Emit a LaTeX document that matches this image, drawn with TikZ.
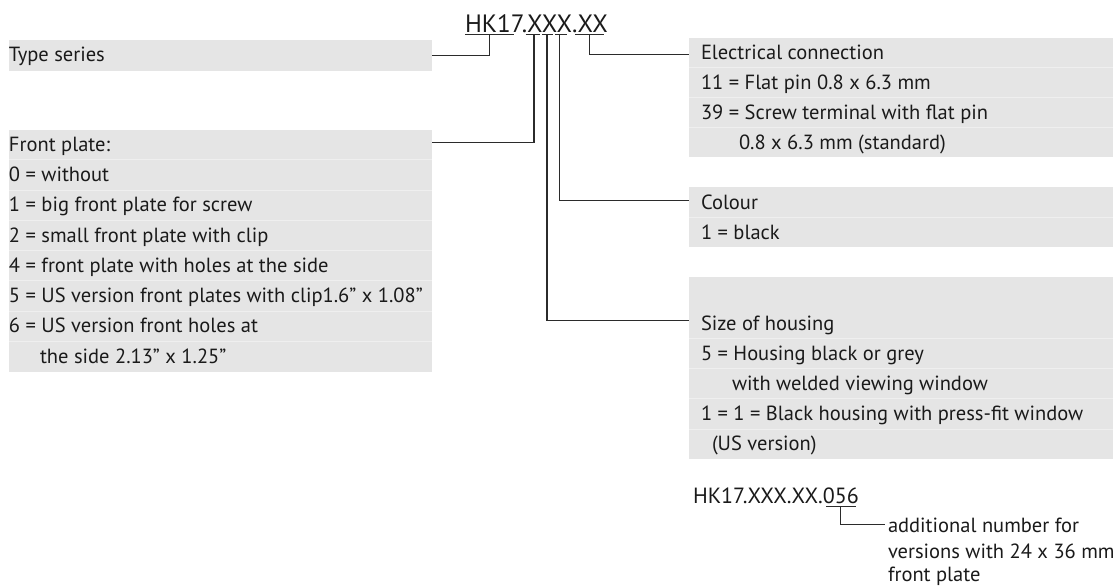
\documentclass[tikz,border=0pt]{standalone}
\usepackage{fontspec}
\setmainfont{PT Sans}
\usetikzlibrary{calc}
\definecolor{boxgray}{HTML}{E5E5E5}
\definecolor{sepc}{HTML}{EFEFEF}
\definecolor{linec}{HTML}{2B2B2B}
\definecolor{txt}{HTML}{1A1A1A}
\tikzset{
  panel/.style={rectangle, fill=boxgray, draw=none, inner sep=0pt, outer sep=0pt, anchor=north west},
  sepline/.style={draw=sepc, line width=0.9pt},
  lbl/.style={anchor=base west, inner sep=0pt, outer sep=0pt, font=\fontsize{20.5}{24}\selectfont, text=txt},
  bigcode/.style={anchor=base west, inner sep=0pt, outer sep=0pt, font=\fontsize{25.1}{30}\selectfont, text=txt},
  midcode/.style={anchor=base west, inner sep=0pt, outer sep=0pt, font=\fontsize{22}{26}\selectfont, text=txt},
  conn/.style={draw=linec, line width=1.2pt},
  uline/.style={draw=linec, line width=1.2pt},
}
\begin{document}
\begin{tikzpicture}[x=1pt,y=-1pt]
\useasboundingbox (0,0) rectangle (1116,587);

% ---------- panels ----------
\node[panel, minimum width=423pt, minimum height=31pt] (tsbox) at (9,39.8) {};
\node[panel, minimum width=423pt, minimum height=242.2pt] (fpbox) at (9,129.5) {};
\node[panel, minimum width=424pt, minimum height=119.6pt] (ecbox) at (689,37.5) {};
\node[panel, minimum width=424pt, minimum height=60pt] (colbox) at (689,187.3) {};
\node[panel, minimum width=424pt, minimum height=182pt] (sizebox) at (689,277.3) {};

% ---------- row separators ----------
\foreach \y in {159.8,190.05,220.3,250.6,280.9,311.15,341.4}
  \draw[sepline] (9,\y) -- (432,\y);
\foreach \y in {67.4,97.3,127.2}
  \draw[sepline] (689,\y) -- (1113,\y);
\draw[sepline] (689,217.3) -- (1113,217.3);
\foreach \y in {338.3,368.3,398.5,429}
  \draw[sepline] (689,\y) -- (1113,\y);

% ---------- texts ----------
\node[lbl] (ts) at (9,61.6) {Type series};

\node[lbl] (fp)  at (9,151.3) {Front plate:};
\node[lbl] (fp0) at (9,181.6) {0 = without};
\node[lbl] (fp1) at (9,211.85) {1 = big front plate for screw};
\node[lbl] (fp2) at (9,242.1) {2 = small front plate with clip};
\node[lbl] (fp4) at (9,272.4) {4 = front plate with holes at the side};
\node[lbl] (fp5) at (9,302.7) {5 = US version front plates with clip1.6” x 1.08”};
\node[lbl] (fp6) at (9,332.95) {6 = US version front holes at};
\node[lbl] (fp6b) at (40,363.2) {the side 2.13” x 1.25”};

\node[lbl] (ec)   at (701,59.3) {Electrical connection};
\node[lbl] (ec11) at (701,89.2) {11 = Flat pin 0.8 x 6.3 mm};
\node[lbl] (ec39) at (701,119.1) {39 = Screw terminal with flat pin};
\node[lbl] (ec39b) at (739,149) {0.8 x 6.3 mm (standard)};

\node[lbl] (col)  at (701,209.1) {Colour};
\node[lbl] (col1) at (701,239.1) {1 = black};

\node[lbl] (sz)   at (701,330.1) {Size of housing};
\node[lbl] (sz5)  at (701,360.1) {5 = Housing black or grey};
\node[lbl] (sz5b) at (732,390.1) {with welded viewing window};
\node[lbl] (sz1)  at (701,420.3) {1 = 1 = Black housing with press-fit window};
\node[lbl] (sz1b) at (712,450.8) {(US version)};

% ---------- title code ----------
\node[bigcode] (title) at (465,32.3) {HK17.XXX.XX};
\coordinate (uHK) at (489.5,34.3);
\coordinate (uX1) at (534,34.3);
\coordinate (uX2) at (547,34.3);
\coordinate (uX3) at (559.7,34.3);
\coordinate (uXX) at (589.3,34.3);
\draw[uline] (465,34.3) -- (514,34.3);
\draw[uline] (525.7,34.3) -- (540,34.3);
\draw[uline] (542,34.3) -- (553,34.3);
\draw[uline] (555,34.3) -- (566.7,34.3);
\draw[uline] (575,34.3) -- (604,34.3);

% ---------- connectors ----------
\draw[conn] (tsbox.east) -| (uHK);
\draw[conn] ($(fpbox.north east)+(0,13.2)$) -| (uX1);
\draw[conn] (uX2) |- ($(sizebox.north west)+(0,43.4)$);
\draw[conn] (uX3) |- ($(colbox.north west)+(0,13.4)$);
\draw[conn] (uXX) |- ($(ecbox.north west)+(0,17)$);

% ---------- additional number ----------
\node[midcode] (code2) at (693,503) {HK17.XXX.XX.056};
\coordinate (u056) at (840.7,506.3);
\coordinate (addA) at (885,524.3);
\draw[uline] (826,506.3) -- (855.7,506.3);
\draw[conn] (u056) |- (addA);
\node[lbl, anchor=base west] (add1) at ($(addA)+(3,8.5)$) {additional number for};
\node[lbl, anchor=base west] (add2) at ($(add1.base west)+(0,25.5)$) {versions with 24 x 36 mm};
\node[lbl, anchor=base west] (add3) at ($(add2.base west)+(0,23.5)$) {front plate};
\end{tikzpicture}
\end{document}
